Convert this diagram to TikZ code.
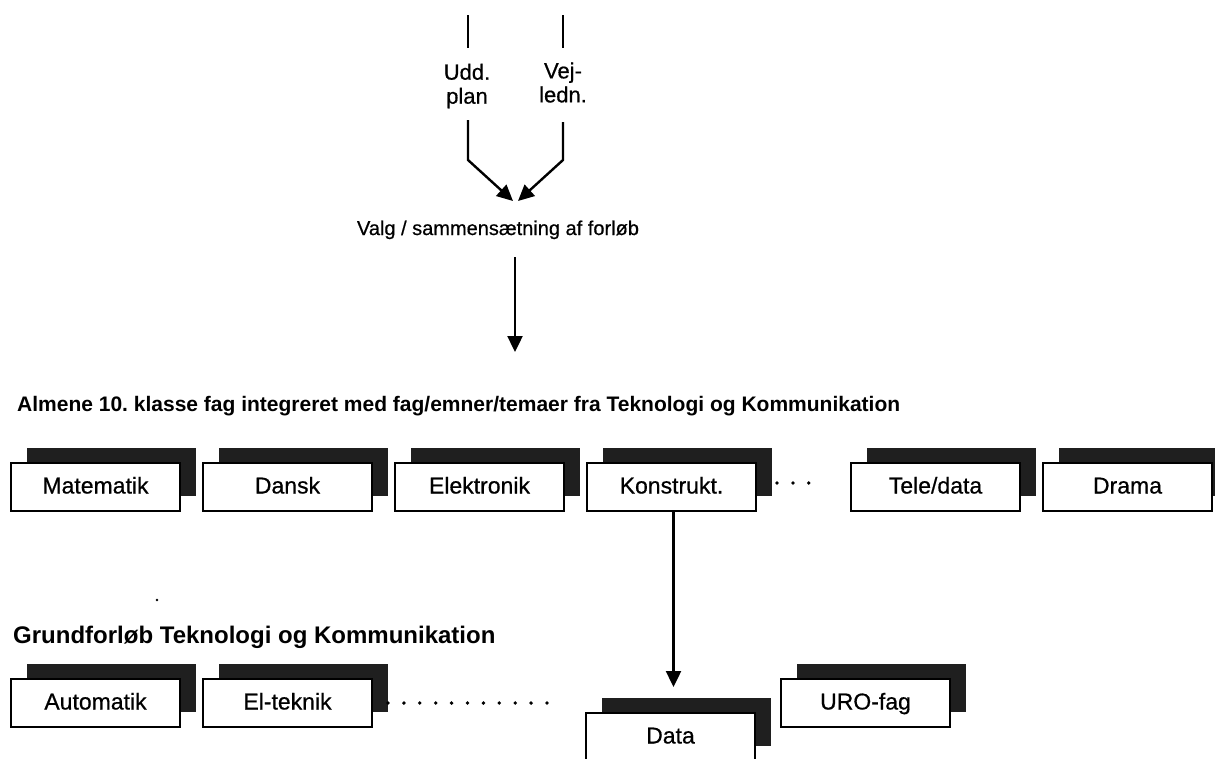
\documentclass[tikz,border=0pt]{standalone}
\usepackage{fontspec}
\setmainfont{Liberation Sans}
\newfontfamily\scan{Liberation Sans}[FakeBold=0.6]
\usetikzlibrary{arrows.meta}
\begin{document}
\frenchspacing
\begin{tikzpicture}[x=1pt,y=-1pt,
  conn/.style={line width=2.4pt},
  tip/.style={-{Triangle[length=16pt,width=15pt]}},
  fag/.style={draw, fill=white, line width=2.2pt, minimum width=169pt, minimum height=48pt,
    inner sep=0pt, text height=16pt, text depth=3pt, font=\scan\fontsize{23}{26}\selectfont},
  shadowbox/.style={fill=black!88},
  lbl/.style={align=center, font=\scan\fontsize{22}{24}\selectfont, inner sep=0pt},
  head/.style={anchor=base west, inner sep=0pt, font=\bfseries\fontsize{21}{24}\selectfont},
  plain/.style={anchor=base, inner sep=0pt, font=\scan\fontsize{20}{24}\selectfont},
  dotrow/.style={line width=3.8pt, line cap=round, dash pattern=on 0pt off 15.9pt}]
\useasboundingbox (0,0) rectangle (1215,758);
\clip (0,0) rectangle (1215,758);
\fill[white] (0,0) rectangle (1215,758);
\newcommand\fagbox[4]{%
  \fill[shadowbox] (#2+16,#3-15) rectangle ++(169,48);
  \node[fag] (#1) at (#2+84.5,#3+24) {#4};}

% top inputs
\coordinate (uddtop) at (468,15);
\coordinate (uddmid) at (468,48);
\node[lbl] (udd) at (467,86) {Udd.\\plan};
\coordinate (uddlow) at (468,120);
\coordinate (uddbend) at (468,160);
\coordinate (tipL) at (513,201);
\coordinate (vejtop) at (563,15);
\coordinate (vejmid) at (563,48);
\node[lbl] (vej) at (563,86) {Vej-\\ledn.\strut};
\coordinate (vejlow) at (563,122);
\coordinate (vejbend) at (563,160);
\coordinate (tipR) at (518,201);
\draw[conn] (uddtop) -- (uddmid);
\draw[conn] (vejtop) -- (vejmid);
\draw[conn,tip] (uddlow) -- (uddbend) -- (tipL);
\draw[conn,tip] (vejlow) -- (vejbend) -- (tipR);

\node[plain] (valg) at (498,235) {Valg / sammensætning af forløb};
\coordinate (downA) at (515,257);
\coordinate (downB) at (515,352);
\draw[conn,tip] (downA) -- (downB);

\node[head] (h1) at (17,411) {Almene 10. klasse fag integreret med fag/emner/temaer fra Teknologi og Kommunikation};

\fagbox{mat}{11}{463}{Matematik}
\fagbox{dansk}{203}{463}{Dansk}
\fagbox{elek}{395}{463}{Elektronik}
\fagbox{konst}{587}{463}{Konstrukt.}
\fagbox{tele}{851}{463}{Tele/data}
\fagbox{drama}{1043}{463}{Drama}
\coordinate (dotsA) at (777,483);
\coordinate (dotsB) at (823,483);
\draw[dotrow] (dotsA) -- (dotsB);

\node[head, font=\bfseries\fontsize{24}{26}\selectfont] (h2) at (13,643) {Grundforløb Teknologi og Kommunikation};
\fill (157,600) circle (1.4);

\fagbox{auto}{11}{679}{Automatik}
\fagbox{el}{203}{679}{El-teknik}
\fagbox{uro}{781}{679}{URO-fag}
\fagbox{data}{586}{713}{Data}
\coordinate (dots2A) at (388,703);
\coordinate (dots2B) at (548,703);
\draw[dotrow] (dots2A) -- (dots2B);

\coordinate (datatip) at ([xshift=2pt]konst.south |- 0,687);
\draw[conn,tip] ([xshift=2pt]konst.south) -- (datatip);
\end{tikzpicture}
\end{document}
